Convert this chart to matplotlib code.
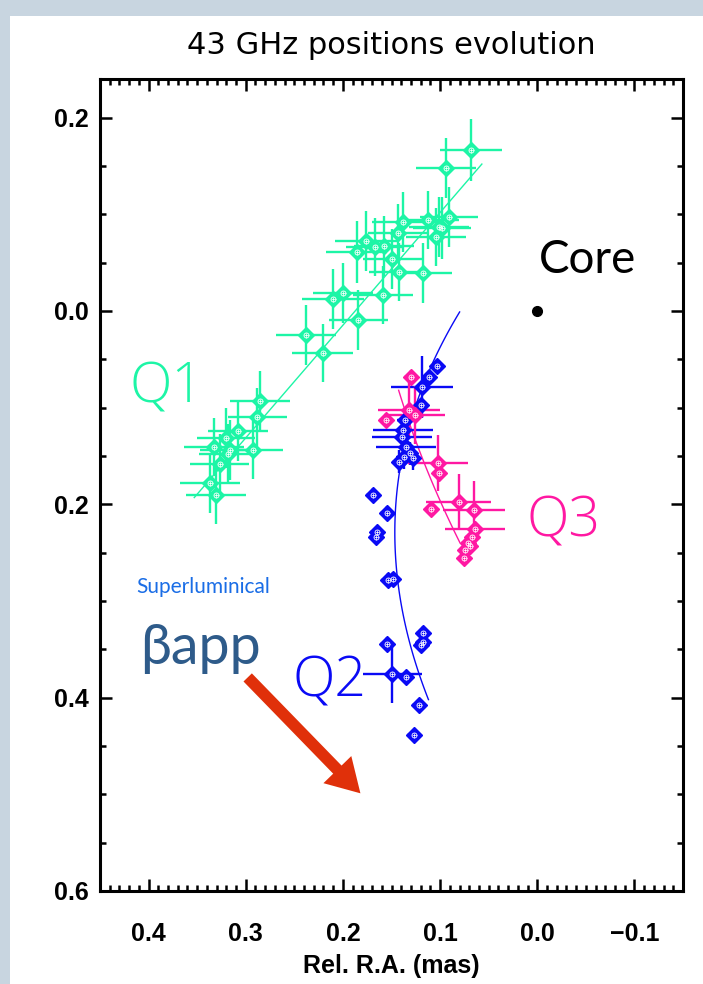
import numpy as np
import matplotlib
matplotlib.use("Agg")
import matplotlib.pyplot as plt
from matplotlib.ticker import MultipleLocator
from matplotlib.patches import Rectangle, FancyArrowPatch

# Q1 component (green) - rel. RA / rel. Dec in mas
q1_ra = [0.068, 0.094, 0.091, 0.112, 0.101, 0.098, 0.104, 0.138, 0.143, 0.149, 0.142,
         0.118, 0.176, 0.186, 0.167, 0.158, 0.159, 0.200, 0.210, 0.184, 0.238, 0.221,
         0.285, 0.288, 0.308, 0.320, 0.333, 0.316, 0.318, 0.293, 0.327, 0.337, 0.331]
q1_dec = [0.167, 0.148, 0.097, 0.094, 0.087, 0.086, 0.077, 0.092, 0.081, 0.054, 0.040,
          0.039, 0.072, 0.061, 0.066, 0.067, 0.017, 0.019, 0.012, -0.009, -0.025, -0.043,
          -0.093, -0.110, -0.124, -0.131, -0.141, -0.144, -0.148, -0.144, -0.158, -0.178, -0.190]
q1_ra_err = [0.032, 0.031, 0.030, 0.031, 0.031, 0.030, 0.031, 0.032, 0.031, 0.030, 0.031,
             0.030, 0.032, 0.031, 0.030, 0.031, 0.031, 0.031, 0.032, 0.030, 0.031, 0.031,
             0.031, 0.030, 0.031, 0.030, 0.031, 0.031, 0.030, 0.031, 0.030, 0.031, 0.031]
q1_dec_err = [0.032, 0.031, 0.031, 0.030, 0.031, 0.032, 0.030, 0.031, 0.030, 0.031, 0.030,
              0.031, 0.031, 0.032, 0.030, 0.031, 0.030, 0.031, 0.031, 0.031, 0.031, 0.030,
              0.031, 0.030, 0.031, 0.031, 0.030, 0.031, 0.031, 0.030, 0.031, 0.031, 0.030]
q1_fit_ra = [0.353, 0.057]
q1_fit_dec = [-0.193, 0.152]

# Q2 component (blue)
q2_ra = [0.103, 0.111, 0.119, 0.120, 0.136, 0.138, 0.139, 0.135, 0.131, 0.142, 0.137,
         0.128, 0.169, 0.155, 0.165, 0.166, 0.154, 0.148, 0.155, 0.118, 0.118, 0.120,
         0.149, 0.135, 0.122, 0.127]
q2_dec = [-0.057, -0.068, -0.079, -0.097, -0.113, -0.123, -0.130, -0.141, -0.147, -0.156,
          -0.151, -0.152, -0.190, -0.209, -0.229, -0.234, -0.278, -0.277, -0.344, -0.333,
          -0.342, -0.346, -0.376, -0.379, -0.408, -0.439]
q2_ra_err = [0.007, 0.007, 0.032, 0.007, 0.008, 0.031, 0.031, 0.031, 0.008, 0.008, 0.008,
             0.008, 0.007, 0.007, 0.007, 0.007, 0.007, 0.007, 0.007, 0.007, 0.007, 0.007,
             0.030, 0.007, 0.007, 0.007]
q2_dec_err = [0.007, 0.007, 0.032, 0.007, 0.010, 0.010, 0.010, 0.012, 0.012, 0.012, 0.012,
              0.012, 0.007, 0.007, 0.007, 0.007, 0.007, 0.007, 0.007, 0.007, 0.007, 0.007,
              0.030, 0.007, 0.007, 0.007]
q2_fit_ra = [0.081, 0.103, 0.143, 0.146, 0.144, 0.134, 0.123, 0.113]
q2_fit_dec = [-0.001, -0.048, -0.165, -0.234, -0.286, -0.327, -0.368, -0.402]

# Q3 component (magenta)
q3_ra = [0.130, 0.156, 0.132, 0.126, 0.102, 0.101, 0.081, 0.065, 0.109, 0.064, 0.067,
         0.071, 0.074, 0.075, 0.069]
q3_dec = [-0.068, -0.113, -0.102, -0.108, -0.157, -0.168, -0.198, -0.206, -0.205, -0.225,
          -0.234, -0.240, -0.247, -0.256, -0.243]
q3_ra_err = [0.007, 0.007, 0.032, 0.031, 0.031, 0.007, 0.033, 0.032, 0.007, 0.031, 0.007,
             0.007, 0.007, 0.007, 0.007]
q3_dec_err = [0.007, 0.007, 0.030, 0.030, 0.029, 0.007, 0.029, 0.030, 0.007, 0.007, 0.007,
              0.007, 0.007, 0.007, 0.007]
q3_fit_ra = [0.143, 0.123, 0.103, 0.079]
q3_fit_dec = [-0.082, -0.137, -0.192, -0.240]

core_ra = [0.0]
core_dec = [0.0]

green = '#1df5a6'
blue = '#0a0af5'
pink = '#ff18a2'

fig = plt.figure(figsize=(7.03, 9.84), dpi=100)
fig.patch.set_facecolor('#c8d5e0')
fig.patches.append(Rectangle((10 / 703, 0), 1 - 10 / 703, 1 - 16 / 984,
                             transform=fig.transFigure, facecolor='white',
                             edgecolor='none', zorder=-10))

ax = fig.add_axes([100 / 703, 93 / 984, 583 / 703, 812 / 984])
ax.set_xlim(0.45, -0.15)
ax.set_ylim(-0.6, 0.24)


def draw_comp(ra, dec, ra_err, dec_err, c):
    ax.errorbar(ra, dec, xerr=ra_err, yerr=dec_err, fmt='none', ecolor=c,
                elinewidth=1.7, capsize=0, zorder=3)
    ax.plot(ra, dec, 'D', ms=8.5, color=c, mec=c, zorder=4)
    ax.plot(ra, dec, 'o', ms=3.6, mfc='none', mec='white', mew=0.6, zorder=5)
    ax.plot(ra, dec, '+', ms=3.6, color='white', mew=0.5, zorder=5)


# fit lines
ax.plot(q1_fit_ra, q1_fit_dec, color=green, lw=1.0, zorder=2)
c2 = np.polyfit(q2_fit_dec, q2_fit_ra, 3)
yy = np.linspace(min(q2_fit_dec), max(q2_fit_dec), 100)
ax.plot(np.polyval(c2, yy), yy, color=blue, lw=1.0, zorder=2)
c3 = np.polyfit(q3_fit_dec, q3_fit_ra, 2)
yy = np.linspace(min(q3_fit_dec), max(q3_fit_dec), 100)
ax.plot(np.polyval(c3, yy), yy, color=pink, lw=1.0, zorder=2)

draw_comp(q1_ra, q1_dec, q1_ra_err, q1_dec_err, green)
draw_comp(q2_ra, q2_dec, q2_ra_err, q2_dec_err, blue)
draw_comp(q3_ra, q3_dec, q3_ra_err, q3_dec_err, pink)

ax.plot(core_ra, core_dec, 'o', ms=7, color='black', zorder=5)

# annotations
fam = ['Lato', 'Open Sans', 'DejaVu Sans']
qfam = ['Open Sans', 'Lato', 'DejaVu Sans']
ax.text(-0.052, 0.053, 'Core', fontsize=33, family=fam, color='black', ha='center', va='center')
ax.text(0.382, -0.080, 'Q1', fontsize=40, family=qfam, weight=300, color=green, ha='center', va='center')
ax.text(0.214, -0.384, 'Q2', fontsize=40, family=qfam, weight=300, color=blue, ha='center', va='center')
ax.text(-0.027, -0.218, 'Q3', fontsize=40, family=qfam, weight=300, color=pink, ha='center', va='center')
ax.text(0.347, -0.349, 'βapp', fontsize=40, family=fam, color='#2e5b8a', ha='center', va='center')
ax.text(0.344, -0.286, 'Superluminical', fontsize=15, family=fam, color='#1a6de6', ha='center', va='center')

arr = FancyArrowPatch((0.300, -0.377), (0.180, -0.501),
                      arrowstyle='simple,head_length=1.7,head_width=2.0,tail_width=0.6',
                      mutation_scale=14, color='#e0300a', lw=0, zorder=6)
ax.add_patch(arr)

# axes styling
ax.set_xticks([0.4, 0.3, 0.2, 0.1, 0.0, -0.1])
ax.set_xticklabels(['0.4', '0.3', '0.2', '0.1', '0.0', '\u22120.1'])
ax.set_yticks([0.2, 0.0, -0.2, -0.4, -0.6])
ax.set_yticklabels(['0.2', '0.0', '0.2', '0.4', '0.6'])
ax.xaxis.set_minor_locator(MultipleLocator(0.01))
ax.yaxis.set_minor_locator(MultipleLocator(0.05))
ax.tick_params(which='both', direction='in', top=True, right=True, width=1.8)
ax.tick_params(which='major', length=8.5)
ax.tick_params(which='minor', length=4.3)
ax.tick_params(axis='x', pad=22)
ax.tick_params(axis='y', pad=8)
for lab in ax.get_xticklabels() + ax.get_yticklabels():
    lab.set_family('Liberation Sans')
    lab.set_fontweight('bold')
    lab.set_fontsize(18)
for s in ax.spines.values():
    s.set_linewidth(2.2)

ax.set_xlabel('Rel. R.A. (mas)', family='Liberation Sans', fontweight='bold', fontsize=18)
ax.xaxis.set_label_coords(0.5, -0.077)
ax.xaxis.label.set_va('top')

fig.text(391.5 / 703, 1 - 45 / 984, '43 GHz positions evolution', fontsize=22,
         family='DejaVu Sans', ha='center', va='center')

fig.savefig('out.png', dpi=100, facecolor=fig.get_facecolor())
